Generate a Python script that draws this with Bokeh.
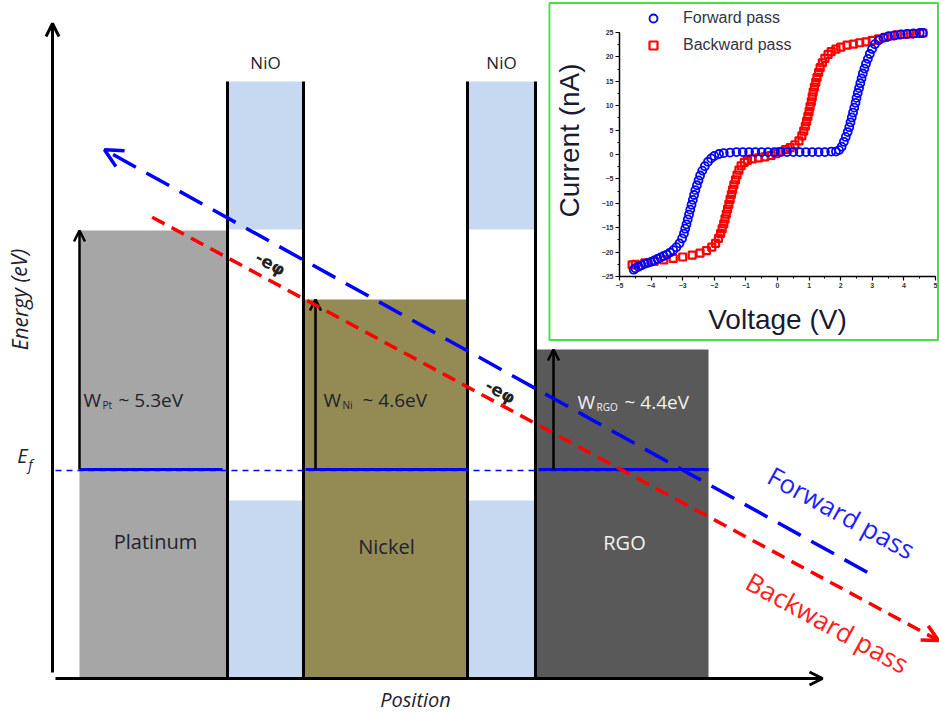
from bokeh.plotting import figure
from bokeh.models import (Range1d, Arrow, OpenHead, GridBox,
                          Legend, LegendItem, SingleIntervalTicker)
from bokeh.core.properties import value
from bokeh.embed import file_html
from bokeh.resources import INLINE

# ---------------- schematic data (schematic units: position x, energy y) -------------
metal_names = ["Platinum", "Nickel", "RGO"]
metal_left = [79, 303, 536]
metal_right = [227, 467, 708]
metal_top = [487, 418, 368]
metal_bottom = [40, 40, 40]
metal_colors = ["#a6a6a6", "#948a54", "#595959"]
metal_text_colors = ["#22222e", "#22222e", "#f2f2f2"]
metal_label_x = [155, 386, 624]
metal_label_y = [176, 171, 175]

wf_sub = ["Pt", "Ni", "RGO"]
wf_val = ["~ 5.3eV", "~ 4.6eV", "~ 4.4eV"]
wf_w_x = [83, 323, 577]
wf_sub_x = [102, 342, 596]
wf_val_x = [118, 362, 624]
wf_y = [318, 318, 316]
wf_arrow_x = [79, 315, 553]

fermi_level = 248
fermi_left = [79, 305, 538]
fermi_right = [222, 467, 708]

oxide_names = ["NiO", "NiO"]
oxide_left = [227, 467]
oxide_right = [303, 535]
oxide_top = 636
oxide_cb_bottom = 488
oxide_vb_top = 217
oxide_bottom = 40

forward_path = [(866.7, 145.3), (104.0, 567.7)]
backward_path = [(151.7, 500.3), (938.0, 77.0)]
ephi_x = [270, 500]
ephi_y = [454, 326]

# ---------------- inset I-V data ----------------
fwd_v = [-4.55, -4.5, -4.4, -4.3, -4.2, -4.1, -4.0, -3.9, -3.8, -3.7, -3.6, -3.5, -3.4,
         -3.3, -3.2, -3.1, -3.02, -2.96, -2.92, -2.88, -2.84, -2.8, -2.76, -2.72, -2.68,
         -2.64, -2.6, -2.55, -2.5, -2.45, -2.38, -2.3, -2.2, -2.1, -2.0, -1.85, -1.7,
         -1.5, -1.3, -1.1, -0.9, -0.7, -0.5, -0.3, -0.1, 0.1, 0.3, 0.5, 0.7, 0.9, 1.1,
         1.3, 1.5, 1.7, 1.85, 1.95, 2.03, 2.1, 2.16, 2.22, 2.27, 2.31, 2.35, 2.39, 2.43,
         2.47, 2.5, 2.54, 2.58, 2.62, 2.66, 2.7, 2.75, 2.8, 2.86, 2.92, 2.99, 3.08, 3.2,
         3.35, 3.5, 3.7, 3.9, 4.1, 4.3, 4.5, 4.6]
fwd_i = [-23.6, -23.3, -23.0, -22.7, -22.4, -22.2, -22.0, -21.7, -21.4, -21.1, -20.8,
         -20.5, -20.1, -19.6, -19.0, -18.2, -17.2, -16.2, -15.2, -14.3, -13.3, -12.3,
         -11.3, -10.3, -9.3, -8.3, -7.3, -6.3, -5.3, -4.3, -3.3, -2.4, -1.5, -0.8, -0.3,
         0.1, 0.3, 0.4, 0.5, 0.5, 0.5, 0.5, 0.5, 0.5, 0.5, 0.5, 0.5, 0.5, 0.5, 0.5, 0.5,
         0.5, 0.5, 0.6, 0.6, 0.9, 1.6, 2.6, 3.6, 4.6, 5.6, 6.6, 7.6, 8.6, 9.6, 10.6, 11.6,
         12.6, 13.6, 14.6, 15.6, 16.6, 17.6, 18.6, 19.6, 20.6, 21.6, 22.6, 23.4, 23.9,
         24.2, 24.4, 24.6, 24.7, 24.8, 24.9, 24.9]

bwd_v = [4.6, 4.4, 4.2, 4.0, 3.8, 3.6, 3.4, 3.2, 3.0, 2.8, 2.6, 2.4, 2.2, 2.0, 1.85, 1.7,
         1.6, 1.5, 1.42, 1.35, 1.3, 1.25, 1.21, 1.17, 1.13, 1.1, 1.07, 1.03, 1.0, 0.96,
         0.92, 0.88, 0.83, 0.77, 0.68, 0.55, 0.4, 0.25, 0.1, -0.05, -0.2, -0.4, -0.6, -0.8,
         -0.95, -1.05, -1.15, -1.22, -1.28, -1.33, -1.38, -1.42, -1.46, -1.5, -1.54, -1.58,
         -1.62, -1.66, -1.7, -1.75, -1.8, -1.87, -1.96, -2.08, -2.25, -2.45, -2.7, -3.0,
         -3.3, -3.6, -3.9, -4.2, -4.5, -4.6]
bwd_i = [24.9, 24.8, 24.7, 24.6, 24.5, 24.3, 24.0, 23.7, 23.4, 23.1, 22.9, 22.6, 22.4,
         22.0, 21.6, 21.1, 20.5, 19.7, 18.8, 17.8, 16.8, 15.8, 14.8, 13.8, 12.8, 11.8,
         10.8, 9.8, 8.8, 7.8, 6.8, 5.8, 4.8, 3.8, 2.8, 2.0, 1.4, 1.0, 0.6, 0.2, -0.2,
         -0.5, -0.7, -0.9, -1.2, -1.6, -2.3, -3.2, -4.2, -5.2, -6.2, -7.2, -8.2, -9.2,
         -10.2, -11.2, -12.2, -13.2, -14.2, -15.2, -16.2, -17.2, -18.2, -19.0, -19.7,
         -20.2, -20.6, -21.0, -21.3, -21.6, -21.9, -22.2, -22.5, -22.6]

# ---------------- main schematic ----------------
W, H = 939, 717
p = figure(width=W, height=H, x_range=Range1d(0, 939), y_range=Range1d(0, 717),
           x_axis_type=None, y_axis_type=None, toolbar_location=None,
           output_backend="svg", min_border=0)
p.grid.visible = False
p.outline_line_color = None
p.background_fill_color = "white"
p.border_fill_color = "white"

FONT = value("Open Sans")
TXT = "#22222e"

# NiO bands
n_ox = len(oxide_left)
p.quad(left=oxide_left, right=oxide_right, top=[oxide_top] * n_ox,
       bottom=[oxide_cb_bottom] * n_ox, fill_color="#c6d9f1", line_color=None)
p.quad(left=oxide_left, right=oxide_right, top=[oxide_vb_top] * n_ox,
       bottom=[oxide_bottom] * n_ox, fill_color="#c6d9f1", line_color=None)

# metal blocks
p.quad(left=metal_left, right=metal_right, top=metal_top, bottom=metal_bottom,
       fill_color=metal_colors, line_color=None)

# NiO boundaries
bx = oxide_left + oxide_right
p.segment(x0=bx, y0=[oxide_bottom] * len(bx), x1=bx, y1=[oxide_top] * len(bx),
          line_color="black", line_width=3)

# Fermi level dashed + solid
p.segment(x0=[55], y0=[fermi_level - 1], x1=[708], y1=[fermi_level - 1],
          line_color="#0000ff", line_width=1.5, line_dash="6 5")
p.segment(x0=fermi_left, y0=[fermi_level] * 3, x1=fermi_right, y1=[fermi_level] * 3,
          line_color="#0000ff", line_width=3)

# work function arrows
for ax, top in zip(wf_arrow_x, metal_top):
    p.add_layout(Arrow(end=OpenHead(size=11, line_width=2.5, line_color="black"),
                       x_start=ax, y_start=fermi_level, x_end=ax, y_end=top,
                       line_width=2.5, line_color="black"))

# energy / position axes
p.add_layout(Arrow(end=OpenHead(size=13, line_width=3, line_color="black"),
                   x_start=52, y_start=45, x_end=52, y_end=694,
                   line_width=3, line_color="black"))
p.add_layout(Arrow(end=OpenHead(size=13, line_width=3, line_color="black"),
                   x_start=55, y_start=39, x_end=822, y_end=39,
                   line_width=3, line_color="black"))

# forward / backward potential lines
p.add_layout(Arrow(end=OpenHead(size=18, line_width=3.5, line_color="#0000ff"),
                   x_start=forward_path[0][0], y_start=forward_path[0][1],
                   x_end=forward_path[1][0], y_end=forward_path[1][1],
                   line_width=3.5, line_color="#0000ff", line_dash="26 12"))
p.add_layout(Arrow(end=OpenHead(size=16, line_width=3.5, line_color="#ff0000"),
                   x_start=backward_path[0][0], y_start=backward_path[0][1],
                   x_end=backward_path[1][0], y_end=backward_path[1][1],
                   line_width=3.5, line_color="#ff0000", line_dash="14 8"))

# labels
p.text(x=metal_label_x, y=metal_label_y, text=metal_names, text_align="center",
       text_baseline="middle", text_font=FONT, text_font_size="20px",
       text_color=metal_text_colors)
p.text(x=[(a + b) / 2 for a, b in zip(oxide_left, oxide_right)], y=[655, 655],
       text=oxide_names, text_align="center", text_baseline="middle",
       text_font=FONT, text_font_size="17px", text_color=TXT)
p.text(x=wf_w_x, y=wf_y, text=["W"] * 3, text_align="left", text_baseline="middle",
       text_font=FONT, text_font_size="19px", text_color=metal_text_colors)
p.text(x=wf_sub_x, y=[v - 5 for v in wf_y], text=wf_sub, text_align="left",
       text_baseline="middle", text_font=FONT, text_font_size="10px",
       text_color=metal_text_colors)
p.text(x=wf_val_x, y=wf_y, text=wf_val, text_align="left", text_baseline="middle",
       text_font=FONT, text_font_size="19px", text_color=metal_text_colors)

p.text(x=ephi_x, y=ephi_y, text=["-e\u03c6"] * 2, angle=-0.51, text_align="center",
       text_baseline="middle", text_font=value("DejaVu Sans"), text_font_size="17px",
       text_font_style="bold", text_color="#222222")

p.text(x=[841], y=[205], text=["Forward pass"], angle=-0.5, text_align="center",
       text_baseline="middle", text_font=FONT, text_font_size="26px",
       text_color="#1f1fff")
p.text(x=[827], y=[95], text=["Backward pass"], angle=-0.5, text_align="center",
       text_baseline="middle", text_font=FONT, text_font_size="26px",
       text_color="#ff2020")

p.text(x=[19], y=[418], text=["Energy (eV)"], angle=1.5708, text_align="center",
       text_baseline="middle", text_font=FONT, text_font_size="21px",
       text_font_style="italic", text_color=TXT)
p.text(x=[415], y=[18], text=["Position"], text_align="center", text_baseline="middle",
       text_font=FONT, text_font_size="20px", text_font_style="italic",
       text_color=TXT)
p.text(x=[22], y=[262], text=["E"], text_align="center", text_baseline="middle",
       text_font=FONT, text_font_size="20px", text_font_style="italic",
       text_color=TXT)
p.text(x=[30], y=[253], text=["f"], text_align="center", text_baseline="middle",
       text_font=FONT, text_font_size="14px", text_font_style="italic",
       text_color=TXT)

# green frame of the inset
p.quad(left=[549], right=[937.5], top=[714.5], bottom=[377.5], fill_color=None,
       line_color="#44e044", line_width=2)

# ---------------- inset I-V plot ----------------
inset = figure(width=387, height=334, x_range=Range1d(-5, 5),
               y_range=Range1d(-25, 30.74),
               toolbar_location=None, output_backend="svg",
               min_border_left=67, min_border_right=2, min_border_top=0,
               min_border_bottom=62)
inset.grid.visible = False
inset.outline_line_color = None
inset.xaxis.ticker = SingleIntervalTicker(interval=1, num_minor_ticks=2)
inset.yaxis.ticker = SingleIntervalTicker(interval=5, num_minor_ticks=2)
inset.yaxis.bounds = (-25, 25)
for ax in (inset.xaxis, inset.yaxis):
    ax.axis_line_width = 1.5
    ax.major_tick_line_width = 1.2
    ax.minor_tick_line_width = 1
    ax.major_tick_out = 4
    ax.major_tick_in = 0
    ax.minor_tick_out = 2
    ax.minor_tick_in = 0
    ax.major_label_text_font_size = "7px"
    ax.major_label_text_font = "Liberation Sans"
    ax.major_label_text_font_style = "bold"
    ax.major_label_text_color = "#333333"
    ax.axis_label_text_font = "Liberation Sans"
    ax.axis_label_text_font_size = "28px"
    ax.axis_label_text_font_style = "normal"
    ax.axis_label_text_color = "#1a1a33"
inset.xaxis.axis_label = "Voltage (V)"
inset.yaxis.axis_label = "Current (nA)"
inset.xaxis.major_label_standoff = 2
inset.yaxis.major_label_standoff = 2
inset.xaxis.axis_label_standoff = 13
inset.yaxis.axis_label_standoff = 14

r_b = inset.scatter(bwd_v, bwd_i, marker="square", size=7, fill_color=None,
                    line_color="#ff0000", line_width=2.2)
r_f = inset.scatter(fwd_v, fwd_i, marker="circle", size=8, fill_color=None,
                    line_color="#0000ff", line_width=1.8)

legend = Legend(items=[LegendItem(label="Forward pass", renderers=[r_f]),
                       LegendItem(label="Backward pass", renderers=[r_b])],
                location=(24, 221), padding=0, margin=0, spacing=7,
                glyph_width=20, glyph_height=20, label_height=20, label_standoff=20,
                border_line_color=None, background_fill_alpha=0,
                label_text_font="Liberation Sans", label_text_font_size="16px",
                label_text_color="#333344")
inset.add_layout(legend)

layout = GridBox(children=[(p, 0, 0, 3, 3), (inset, 1, 1)],
                 rows=["4px", "334px", "379px"], cols=["550px", "387px", "2px"])

open("out.html", "w").write(file_html(layout, INLINE))
